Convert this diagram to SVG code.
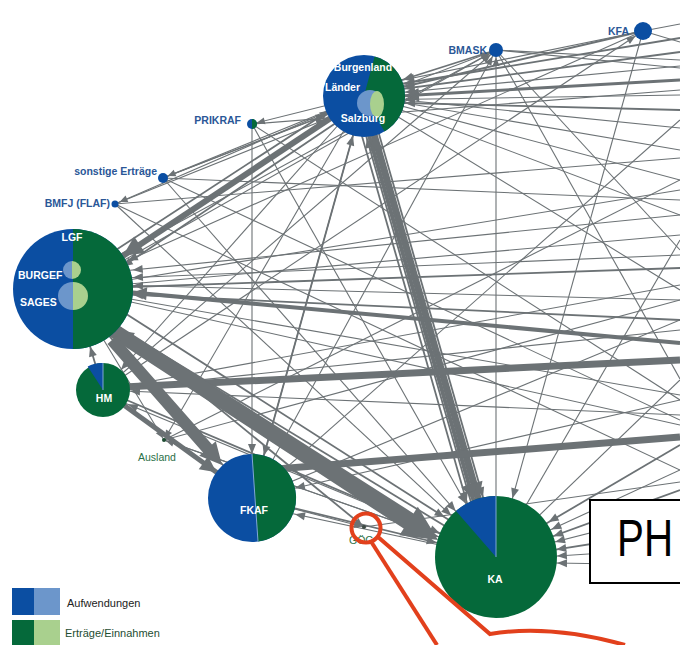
<svg xmlns="http://www.w3.org/2000/svg" width="680" height="645" viewBox="0 0 680 645">
<style>
.bg{fill:#ffffff}
#connectors line,#connectors path.ln{stroke:#6c7275;fill:none}
.ah{fill:#6c7275}
.w1{stroke-width:1.1}
.w2{stroke-width:1.8}
.w3{stroke-width:3}
.w4{stroke-width:4}
.w5{stroke-width:5}
.w6{stroke-width:6}
.w7{stroke-width:7}
.db{fill:#0b4ea2}
.dg{fill:#05693a}
.lb{fill:#6c96cb}
.lg{fill:#a9d08e}
.wl{font-family:"Liberation Sans",Arial,sans-serif;font-weight:bold;fill:#ffffff;font-size:10.5px}
.bl{font-family:"Liberation Sans",Arial,sans-serif;font-weight:bold;fill:#2a5797;font-size:10.5px;text-anchor:end}
.gl{font-family:"Liberation Sans",Arial,sans-serif;fill:#2a7047;font-size:10.5px}
.leg{font-family:"Liberation Sans",Arial,sans-serif;font-size:11px}
.red{stroke:#e2401c;stroke-width:4;fill:none}
</style>
<defs>
<marker id="mKA" markerUnits="userSpaceOnUse" orient="auto" overflow="visible" markerWidth="1" markerHeight="1"><path class="ah" d="M-61,0 L-71,-4 L-71,4Z"/></marker>
<marker id="mKAb" markerUnits="userSpaceOnUse" orient="auto" overflow="visible" markerWidth="1" markerHeight="1"><path class="ah" d="M-61,0 L-77,-8 L-77,8Z"/></marker>
<marker id="mL" markerUnits="userSpaceOnUse" orient="auto" overflow="visible" markerWidth="1" markerHeight="1"><path class="ah" d="M-41,0 L-51,-4 L-51,4Z"/></marker>
<marker id="mLb" markerUnits="userSpaceOnUse" orient="auto" overflow="visible" markerWidth="1" markerHeight="1"><path class="ah" d="M-41,0 L-55,-7 L-55,7Z"/></marker>
<marker id="mLG" markerUnits="userSpaceOnUse" orient="auto" overflow="visible" markerWidth="1" markerHeight="1"><path class="ah" d="M-60,0 L-70,-4 L-70,4Z"/></marker>
<marker id="mLGm" markerUnits="userSpaceOnUse" orient="auto" overflow="visible" markerWidth="1" markerHeight="1"><path class="ah" d="M-60,0 L-74,-6.5 L-74,6.5Z"/></marker>
<marker id="mLGb" markerUnits="userSpaceOnUse" orient="auto" overflow="visible" markerWidth="1" markerHeight="1"><path class="ah" d="M-60,0 L-80,-10 L-80,10Z"/></marker>
<marker id="mHM" markerUnits="userSpaceOnUse" orient="auto" overflow="visible" markerWidth="1" markerHeight="1"><path class="ah" d="M-27,0 L-37,-4 L-37,4Z"/></marker>
<marker id="mFK" markerUnits="userSpaceOnUse" orient="auto" overflow="visible" markerWidth="1" markerHeight="1"><path class="ah" d="M-44,0 L-54,-4 L-54,4Z"/></marker>
<marker id="mFKb" markerUnits="userSpaceOnUse" orient="auto" overflow="visible" markerWidth="1" markerHeight="1"><path class="ah" d="M-44,0 L-60,-8 L-60,8Z"/></marker>
<marker id="mBM" markerUnits="userSpaceOnUse" orient="auto" overflow="visible" markerWidth="1" markerHeight="1"><path class="ah" d="M-7,0 L-16,-3.5 L-16,3.5Z"/></marker>
<marker id="mKFA" markerUnits="userSpaceOnUse" orient="auto" overflow="visible" markerWidth="1" markerHeight="1"><path class="ah" d="M-9,0 L-18,-3.5 L-18,3.5Z"/></marker>
<marker id="mS" markerUnits="userSpaceOnUse" orient="auto" overflow="visible" markerWidth="1" markerHeight="1"><path class="ah" d="M-5,0 L-13,-3.5 L-13,3.5Z"/></marker>
<marker id="mP" markerUnits="userSpaceOnUse" orient="auto" overflow="visible" markerWidth="1" markerHeight="1"><path class="ah" d="M-2,0 L-10,-3.5 L-10,3.5Z"/></marker>
</defs>
<rect class="bg" x="0" y="0" width="680" height="645"/>

<g id="connectors">
<line x1="680" y1="38" x2="364" y2="90" class="w2" marker-end="url(#mL)"/>
<line x1="680" y1="52" x2="364" y2="94" class="w2" marker-end="url(#mL)"/>
<line x1="680" y1="66" x2="364" y2="96" class="w1" marker-end="url(#mL)"/>
<line x1="680" y1="80" x2="364" y2="98" class="w3" marker-end="url(#mLb)"/>
<line x1="680" y1="95" x2="364" y2="100" class="w1" marker-end="url(#mL)"/>
<line x1="680" y1="110" x2="364" y2="102" class="w2" marker-end="url(#mL)"/>
<line x1="364" y1="96" x2="680" y2="128" class="w1"/>
<line x1="364" y1="96" x2="680" y2="150" class="w1"/>
<line x1="364" y1="96" x2="680" y2="180" class="w1"/>
<line x1="364" y1="96" x2="680" y2="215" class="w1"/>
<line x1="364" y1="96" x2="680" y2="290" class="w1"/>
<line x1="643" y1="31" x2="364" y2="88" class="w1" marker-end="url(#mL)"/>
<line x1="643" y1="31" x2="364" y2="96" class="w2" marker-end="url(#mL)"/>
<line x1="643" y1="31" x2="680" y2="24" class="w1"/>
<line x1="643" y1="31" x2="680" y2="42" class="w1"/>
<line x1="643" y1="31" x2="496" y2="557" class="w1" marker-end="url(#mKA)"/>
<line x1="643" y1="31" x2="73" y2="285" class="w1" marker-end="url(#mLG)"/>
<line x1="103" y1="390" x2="643" y2="31" class="w1" marker-end="url(#mKFA)"/>
<line x1="496" y1="50" x2="364" y2="92" class="w2" marker-end="url(#mL)"/>
<line x1="496" y1="50" x2="680" y2="60" class="w1"/>
<line x1="496" y1="50" x2="680" y2="68" class="w1"/>
<line x1="496" y1="50" x2="680" y2="379" class="w1"/>
<line x1="496" y1="50" x2="680" y2="250" class="w1"/>
<line x1="73" y1="289" x2="496" y2="50" class="w1" marker-end="url(#mBM)"/>
<line x1="103" y1="390" x2="496" y2="50" class="w1" marker-end="url(#mBM)"/>
<line x1="252" y1="498" x2="496" y2="50" class="w1" marker-end="url(#mBM)"/>
<line x1="163" y1="178" x2="496" y2="50" class="w1" marker-end="url(#mBM)"/>
<line x1="496" y1="557" x2="496" y2="50" class="w1" marker-end="url(#mBM)"/>
<line x1="496" y1="50" x2="73" y2="280" class="w1" marker-end="url(#mLG)"/>
<line x1="163" y1="178" x2="364" y2="100" class="w1" marker-end="url(#mL)"/>
<line x1="163" y1="178" x2="680" y2="200" class="w1"/>
<line x1="163" y1="178" x2="680" y2="420" class="w1"/>
<line x1="163" y1="178" x2="496" y2="557" class="w1" marker-end="url(#mKA)"/>
<line x1="115" y1="204" x2="364" y2="104" class="w1" marker-end="url(#mL)"/>
<line x1="115" y1="204" x2="680" y2="158" class="w1"/>
<line x1="115" y1="204" x2="680" y2="470" class="w1"/>
<line x1="115" y1="204" x2="496" y2="557" class="w1" marker-end="url(#mKA)"/>
<line x1="252" y1="124" x2="680" y2="90" class="w1"/>
<line x1="252" y1="124" x2="680" y2="400" class="w1"/>
<line x1="364" y1="96" x2="252" y2="124" class="w1" marker-end="url(#mS)"/>
<line x1="252" y1="124" x2="496" y2="557" class="w1" marker-end="url(#mKA)"/>
<line x1="252" y1="124" x2="252" y2="498" class="w1" marker-end="url(#mFK)"/>
<line x1="364" y1="96" x2="163" y2="178" class="w1" marker-end="url(#mS)"/>
<line x1="364" y1="96" x2="115" y2="204" class="w1" marker-end="url(#mS)"/>
<line x1="364" y1="96" x2="73" y2="289" class="w6" marker-end="url(#mLGb)"/>
<line x1="364" y1="104" x2="73" y2="300" class="w2" marker-end="url(#mLG)"/>
<line x1="73" y1="278" x2="364" y2="88" class="w2" marker-end="url(#mL)"/>
<line x1="364" y1="96" x2="103" y2="390" class="w1" marker-end="url(#mHM)"/>
<line x1="364" y1="96" x2="252" y2="498" class="w2" marker-end="url(#mFK)"/>
<line x1="252" y1="498" x2="364" y2="96" class="w1" marker-end="url(#mL)"/>
<line x1="364" y1="96" x2="164" y2="440" class="w1" marker-end="url(#mP)"/>
<line x1="367.8" y1="94.9" x2="499.8" y2="555.9" class="w2" marker-end="url(#mKA)"/>
<line x1="364" y1="96" x2="496" y2="557" class="w5" marker-end="url(#mKAb)"/>
<line x1="493.1" y1="557.8" x2="361.1" y2="96.8" class="w3" marker-end="url(#mLb)"/>
<line x1="358.2" y1="97.7" x2="490.2" y2="558.7" class="w4" marker-end="url(#mKAb)"/>
<line x1="487.4" y1="559.5" x2="355.4" y2="98.5" class="w2" marker-end="url(#mL)"/>
<line x1="351.5" y1="99.6" x2="483.5" y2="560.6" class="w2" marker-end="url(#mKA)"/>
<line x1="680" y1="343" x2="73" y2="287" class="w4" marker-end="url(#mLGm)"/>
<line x1="680" y1="300" x2="73" y2="284" class="w1" marker-end="url(#mLG)"/>
<line x1="680" y1="255" x2="73" y2="280" class="w1" marker-end="url(#mLG)"/>
<line x1="680" y1="215" x2="73" y2="276" class="w1" marker-end="url(#mLG)"/>
<line x1="680" y1="320" x2="73" y2="292" class="w2" marker-end="url(#mLG)"/>
<line x1="73" y1="289" x2="680" y2="190" class="w1"/>
<line x1="73" y1="289" x2="680" y2="268" class="w2"/>
<line x1="73" y1="289" x2="680" y2="395" class="w1"/>
<line x1="73" y1="289" x2="680" y2="425" class="w1"/>
<line x1="73" y1="289" x2="680" y2="235" class="w1"/>
<line x1="73" y1="280" x2="496" y2="550" class="w2" marker-end="url(#mKA)"/>
<line x1="73" y1="289" x2="364" y2="527" class="w2" marker-end="url(#mP)"/>
<line x1="73" y1="289" x2="164" y2="440" class="w1" marker-end="url(#mP)"/>
<line x1="252" y1="498" x2="73" y2="295" class="w2" marker-end="url(#mLG)"/>
<line x1="103" y1="390" x2="73" y2="289" class="w2" marker-end="url(#mLG)"/>
<line x1="496" y1="557" x2="73" y2="300" class="w2" marker-end="url(#mLG)"/>
<line x1="103" y1="388" x2="680" y2="360" class="w7"/>
<line x1="103" y1="390" x2="680" y2="285" class="w1"/>
<line x1="103" y1="390" x2="680" y2="330" class="w1"/>
<line x1="680" y1="415" x2="103" y2="390" class="w1" marker-end="url(#mHM)"/>
<line x1="103" y1="390" x2="496" y2="557" class="w2" marker-end="url(#mKA)"/>
<line x1="496" y1="557" x2="103" y2="394" class="w1" marker-end="url(#mHM)"/>
<line x1="103" y1="390" x2="252" y2="498" class="w5" marker-end="url(#mFKb)"/>
<line x1="164" y1="440" x2="680" y2="300" class="w1"/>
<line x1="164" y1="440" x2="680" y2="180" class="w1"/>
<line x1="164" y1="440" x2="496" y2="557" class="w1" marker-end="url(#mKA)"/>
<line x1="496" y1="557" x2="164" y2="440" class="w1" marker-end="url(#mP)"/>
<line x1="252" y1="471" x2="680" y2="437" class="w7"/>
<line x1="252" y1="498" x2="680" y2="320" class="w1"/>
<line x1="252" y1="498" x2="680" y2="120" class="w1"/>
<line x1="680" y1="400" x2="252" y2="498" class="w1" marker-end="url(#mFK)"/>
<line x1="252" y1="498" x2="496" y2="557" class="w2" marker-end="url(#mKA)"/>
<line x1="496" y1="557" x2="252" y2="505" class="w1" marker-end="url(#mFK)"/>
<line x1="252" y1="498" x2="364" y2="527" class="w1" marker-end="url(#mP)"/>
<line x1="680" y1="445" x2="496" y2="553" class="w2" marker-end="url(#mKA)"/>
<line x1="680" y1="470" x2="496" y2="555" class="w1" marker-end="url(#mKA)"/>
<line x1="680" y1="490" x2="496" y2="557" class="w2" marker-end="url(#mKA)"/>
<line x1="680" y1="510" x2="496" y2="557" class="w1" marker-end="url(#mKA)"/>
<line x1="680" y1="530" x2="496" y2="559" class="w2" marker-end="url(#mKA)"/>
<line x1="680" y1="548" x2="496" y2="560" class="w1" marker-end="url(#mKA)"/>
<line x1="680" y1="565" x2="496" y2="562" class="w1" marker-end="url(#mKA)"/>
<line x1="496" y1="557" x2="680" y2="380" class="w1"/>
<line x1="496" y1="557" x2="680" y2="240" class="w1"/>
<line x1="364" y1="527" x2="680" y2="482" class="w1"/>
<polygon class="ah" points="108.8,319.1 413.5,513.4 417.8,506.7 438,540 399.4,535.3 403.7,528.6 101.2,330.9"/>
<polygon class="ah" points="116.5,336 212,444.5 215.8,441.2 222,465 199.2,455.8 203,452.5 107.5,344"/>
</g>

<g id="node-KFA"><circle cx="643" cy="31" r="9" class="db"/><text class="bl" x="629" y="35">KFA</text></g>
<g id="node-BMASK"><circle cx="496" cy="50" r="7" class="db"/><text class="bl" x="487" y="54">BMASK</text></g>
<g id="node-PRIKRAF"><circle cx="252" cy="124" r="5" class="db"/><path class="dg" d="M252,119 A5,5 0 0 1 252,129 Z"/><text class="bl" x="241" y="124">PRIKRAF</text></g>
<g id="node-sonstige"><circle cx="163" cy="178" r="5" class="db"/><text class="bl" x="157" y="175">sonstige Erträge</text></g>
<g id="node-BMFJ"><circle cx="115" cy="204" r="3.5" class="db"/><text class="bl" x="110" y="207">BMFJ (FLAF)</text></g>

<g id="node-Laender">
<circle cx="364" cy="96" r="41" class="db"/>
<path class="dg" d="M364,96 L374.6,56.4 A41,41 0 0 1 384.5,131.5 Z"/>
<circle cx="370" cy="103" r="13" class="lb"/>
<ellipse cx="377" cy="104" rx="7" ry="13" class="lg"/>
<text class="wl" x="363" y="71" text-anchor="middle">Burgenland</text>
<text class="wl" x="325" y="91">Länder</text>
<text class="wl" x="363" y="122" text-anchor="middle">Salzburg</text>
</g>

<g id="node-LGF">
<circle cx="73" cy="289" r="60" class="db"/>
<path class="dg" d="M73,229 A60,60 0 0 1 73,349 Z"/>
<path class="lb" d="M72,261 A9,9 0 0 0 72,279 Z"/>
<path class="lg" d="M72,261 A9,9 0 0 1 72,279 Z"/>
<path class="lb" d="M73,282 A15,14 0 0 0 73,310 Z"/>
<path class="lg" d="M73,282 A15,14 0 0 1 73,310 Z"/>
<text class="wl" x="72" y="241" text-anchor="middle">LGF</text>
<text class="wl" x="18" y="279">BURGEF</text>
<text class="wl" x="20" y="306">SAGES</text>
</g>

<g id="node-HM">
<circle cx="103" cy="390" r="27" class="dg"/>
<path class="db" d="M103,390 L87.7,366.5 A27,27 0 0 1 103,363 Z"/>
<line x1="103" y1="390" x2="103" y2="363" stroke="#7fa6d6" stroke-width="1"/>
<text class="wl" x="104" y="402" text-anchor="middle">HM</text>
</g>

<g id="node-Ausland"><circle cx="164" cy="440" r="2" fill="#1f4d33"/><text class="gl" x="138" y="461">Ausland</text></g>

<g id="node-FKAF">
<circle cx="252" cy="498" r="44" class="db"/>
<path class="dg" d="M252,454 A44,44 0 0 1 258,541.6 Z"/>
<line x1="252" y1="454" x2="258" y2="541.6" stroke="#7fa6d6" stroke-width="1"/>
<text class="wl" x="254" y="514" text-anchor="middle">FKAF</text>
</g>

<g id="node-GOEG"><circle cx="364" cy="527" r="2" fill="#3d4a44"/><text class="gl" x="349" y="544" font-size="9">GÖG</text></g>

<g id="node-KA">
<circle cx="496" cy="557" r="61" class="dg"/>
<path class="db" d="M496,557 L456,511 A61,61 0 0 1 496,496 Z"/>
<line x1="496" y1="557" x2="496" y2="496" stroke="#7fa6d6" stroke-width="1"/>
<text class="wl" x="495" y="583" text-anchor="middle">KA</text>
</g>

<g id="legend">
<rect x="12" y="588" width="22" height="27" class="db"/>
<rect x="34" y="588" width="26" height="27" class="lb"/>
<rect x="12" y="620" width="22" height="25" class="dg"/>
<rect x="34" y="620" width="26" height="25" class="lg"/>
<text class="leg" x="67" y="607" fill="#222222">Aufwendungen</text>
<text class="leg" x="65" y="637" fill="#1e4d32">Erträge/Einnahmen</text>
</g>

<g id="PH-box">
<rect x="590" y="500" width="95" height="83" fill="#ffffff" stroke="#000000" stroke-width="2"/>
<text x="617" y="556" font-family="Liberation Sans, Arial, sans-serif" font-size="52" fill="#000000" textLength="56" lengthAdjust="spacingAndGlyphs">PH</text>
</g>

<g id="annotation">
<circle cx="366" cy="528" r="14.5" class="red"/>
<path class="red" d="M378,537 L490,634 Q550,624 625,645"/>
<path class="red" d="M372,543 L437,645"/>
</g>
</svg>
